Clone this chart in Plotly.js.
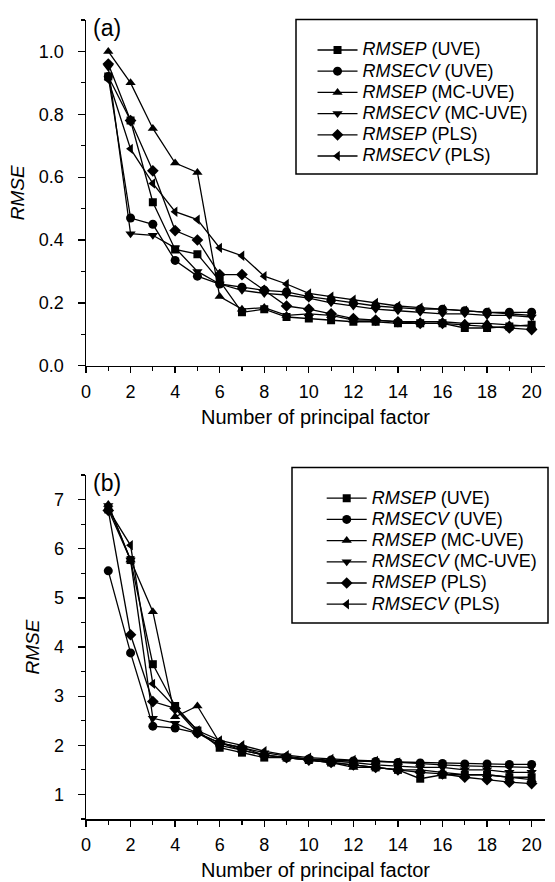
<!DOCTYPE html>
<html>
<head>
<meta charset="utf-8">
<script src="https://cdn.plot.ly/plotly-3.0.1.min.js"></script>
<style>html,body{margin:0;padding:0;background:#fff;}#chart{width:555px;height:882px;}</style>
</head>
<body>
<div id="chart"></div>
<script>
// Number of principal factors
const factors = [1,2,3,4,5,6,7,8,9,10,11,12,13,14,15,16,17,18,19,20];

// Panel (a)
const a_RMSEP_UVE     = [0.92,0.78,0.52,0.37,0.355,0.27,0.17,0.18,0.155,0.15,0.145,0.14,0.14,0.135,0.135,0.135,0.12,0.12,0.125,0.13];
const a_RMSECV_UVE    = [0.92,0.47,0.45,0.335,0.285,0.26,0.25,0.24,0.235,0.22,0.21,0.2,0.19,0.185,0.18,0.18,0.175,0.17,0.17,0.17];
const a_RMSEP_MCUVE   = [1.0,0.9,0.755,0.645,0.615,0.22,0.18,0.185,0.16,0.165,0.16,0.145,0.145,0.14,0.14,0.14,0.135,0.135,0.13,0.125];
const a_RMSECV_MCUVE  = [0.95,0.42,0.415,0.375,0.30,0.26,0.24,0.23,0.225,0.215,0.2,0.19,0.18,0.175,0.17,0.165,0.165,0.16,0.16,0.155];
const a_RMSEP_PLS     = [0.96,0.78,0.62,0.43,0.40,0.29,0.29,0.24,0.19,0.18,0.165,0.15,0.145,0.14,0.135,0.135,0.13,0.125,0.12,0.115];
const a_RMSECV_PLS    = [0.91,0.69,0.58,0.49,0.465,0.375,0.35,0.285,0.26,0.23,0.22,0.21,0.2,0.19,0.185,0.18,0.175,0.17,0.165,0.16];

// Panel (b)
const b_RMSEP_UVE     = [6.8,5.77,3.65,2.8,2.3,1.95,1.85,1.75,1.75,1.7,1.65,1.6,1.55,1.5,1.32,1.4,1.4,1.4,1.35,1.35];
const b_RMSECV_UVE    = [5.55,3.88,2.39,2.35,2.25,2.0,1.9,1.8,1.75,1.72,1.7,1.68,1.67,1.65,1.64,1.63,1.62,1.62,1.61,1.61];
const b_RMSEP_MCUVE   = [6.9,5.77,4.72,2.58,2.8,2.05,1.9,1.8,1.75,1.7,1.65,1.55,1.55,1.5,1.5,1.45,1.4,1.4,1.35,1.3];
const b_RMSECV_MCUVE  = [6.88,5.77,2.55,2.45,2.25,2.05,1.95,1.85,1.78,1.72,1.68,1.65,1.6,1.58,1.55,1.55,1.5,1.5,1.45,1.45];
const b_RMSEP_PLS     = [6.78,4.25,2.89,2.75,2.25,2.05,1.95,1.8,1.75,1.7,1.65,1.6,1.55,1.5,1.45,1.42,1.35,1.3,1.25,1.22];
const b_RMSECV_PLS    = [6.8,6.07,3.25,2.78,2.3,2.1,2.0,1.88,1.8,1.75,1.72,1.7,1.68,1.65,1.62,1.6,1.58,1.57,1.56,1.55];

const seriesNames = ['<i>RMSEP</i> (UVE)','<i>RMSECV</i> (UVE)','<i>RMSEP</i> (MC-UVE)','<i>RMSECV</i> (MC-UVE)','<i>RMSEP</i> (PLS)','<i>RMSECV</i> (PLS)'];
const symbols = ['square','circle','triangle-up','triangle-down','diamond','triangle-left'];
const sizes = [8,9,9,9,9,9];

const aData = [a_RMSEP_UVE,a_RMSECV_UVE,a_RMSEP_MCUVE,a_RMSECV_MCUVE,a_RMSEP_PLS,a_RMSECV_PLS];
const bData = [b_RMSEP_UVE,b_RMSECV_UVE,b_RMSEP_MCUVE,b_RMSECV_MCUVE,b_RMSEP_PLS,b_RMSECV_PLS];

const legendLabel = s => '<span style="font-size:18px">' + s + '</span>';

const traces = [];
aData.forEach((ys,i)=>{
  traces.push({x:factors,y:ys,name:legendLabel(seriesNames[i]),type:'scatter',mode:'lines+markers',
    xaxis:'x',yaxis:'y',legend:'legend',
    line:{color:'#000',width:1.3},marker:{symbol:symbols[i],size:sizes[i],color:'#000'}});
});
bData.forEach((ys,i)=>{
  traces.push({x:factors,y:ys,name:legendLabel(seriesNames[i]),type:'scatter',mode:'lines+markers',
    xaxis:'x2',yaxis:'y2',legend:'legend2',
    line:{color:'#000',width:1.3},marker:{symbol:symbols[i],size:sizes[i],color:'#000'}});
});

const FONT = 'Liberation Sans, Arial, Helvetica, sans-serif';
const xCommon = {range:[0,20.6],dtick:2,tick0:0,ticks:'outside',ticklen:6,tickwidth:1.3,tickcolor:'#000',
  showline:true,linecolor:'#000',linewidth:1.5,showgrid:false,zeroline:false,ticklabelstandoff:3,
  tickfont:{size:18,color:'#000'},minor:{dtick:1,ticks:'outside',ticklen:4,tickcolor:'#000',tickwidth:1.2},
  title:{text:'Number of principal factor',font:{size:20,color:'#000'},standoff:9}};
const yCommon = {ticks:'outside',ticklen:7,tickwidth:1.3,tickcolor:'#000',
  showline:true,linecolor:'#000',linewidth:1.5,showgrid:false,zeroline:false,ticklabelstandoff:10,
  tickfont:{size:18,color:'#000'},
  title:{text:'<i>RMSE</i>',font:{size:19,color:'#000'},standoff:9}};

const layout = {
  width:555,height:882,
  margin:{l:86,r:10,t:20,b:63},
  paper_bgcolor:'#fff',plot_bgcolor:'#fff',
  font:{family:FONT,color:'#000'},
  showlegend:true,
  xaxis:Object.assign({},xCommon,{domain:[0,1],anchor:'y'}),
  yaxis:Object.assign({},yCommon,{domain:[0.5673,1],anchor:'x',range:[0,1.1],dtick:0.2,tick0:0,tickformat:'.1f',
    minor:{dtick:0.1,ticks:'outside',ticklen:4,tickcolor:'#000',tickwidth:1.2}}),
  xaxis2:Object.assign({},xCommon,{domain:[0,1],anchor:'y2'}),
  yaxis2:Object.assign({},yCommon,{domain:[0,0.4305],anchor:'x2',range:[0.5,7.5],dtick:1,tick0:0,
    minor:{dtick:0.5,ticks:'outside',ticklen:4,tickcolor:'#000',tickwidth:1.2}}),
  legend:{x:0.975,xanchor:'right',y:0.982,yanchor:'top',bgcolor:'rgba(0,0,0,0)',borderwidth:0,
    font:{size:14,color:'#000'},itemwidth:40},
  legend2:{x:0.995,xanchor:'right',y:0.421,yanchor:'top',bgcolor:'rgba(0,0,0,0)',borderwidth:0,
    font:{size:14,color:'#000'},itemwidth:40},
  shapes:[
    {type:'rect',xref:'paper',yref:'paper',x0:(296-86)/459,x1:(537-86)/459,y0:(819-174)/799,y1:(819-19.5)/799,
      line:{color:'#000',width:1.5}},
    {type:'rect',xref:'paper',yref:'paper',x0:(292-86)/459,x1:(548-86)/459,y0:(819-623)/799,y1:(819-467.5)/799,
      line:{color:'#000',width:1.5}}
  ],
  annotations:[
    {text:'(a)',xref:'paper',yref:'paper',x:(107-86)/459,y:(819-28)/799,xanchor:'center',yanchor:'middle',
      showarrow:false,font:{size:23,color:'#000'}},
    {text:'(b)',xref:'paper',yref:'paper',x:(107-86)/459,y:(819-483)/799,xanchor:'center',yanchor:'middle',
      showarrow:false,font:{size:23,color:'#000'}}
  ]
};

Plotly.newPlot('chart',traces,layout,{displayModeBar:false,staticPlot:true});
</script>
</body>
</html>
